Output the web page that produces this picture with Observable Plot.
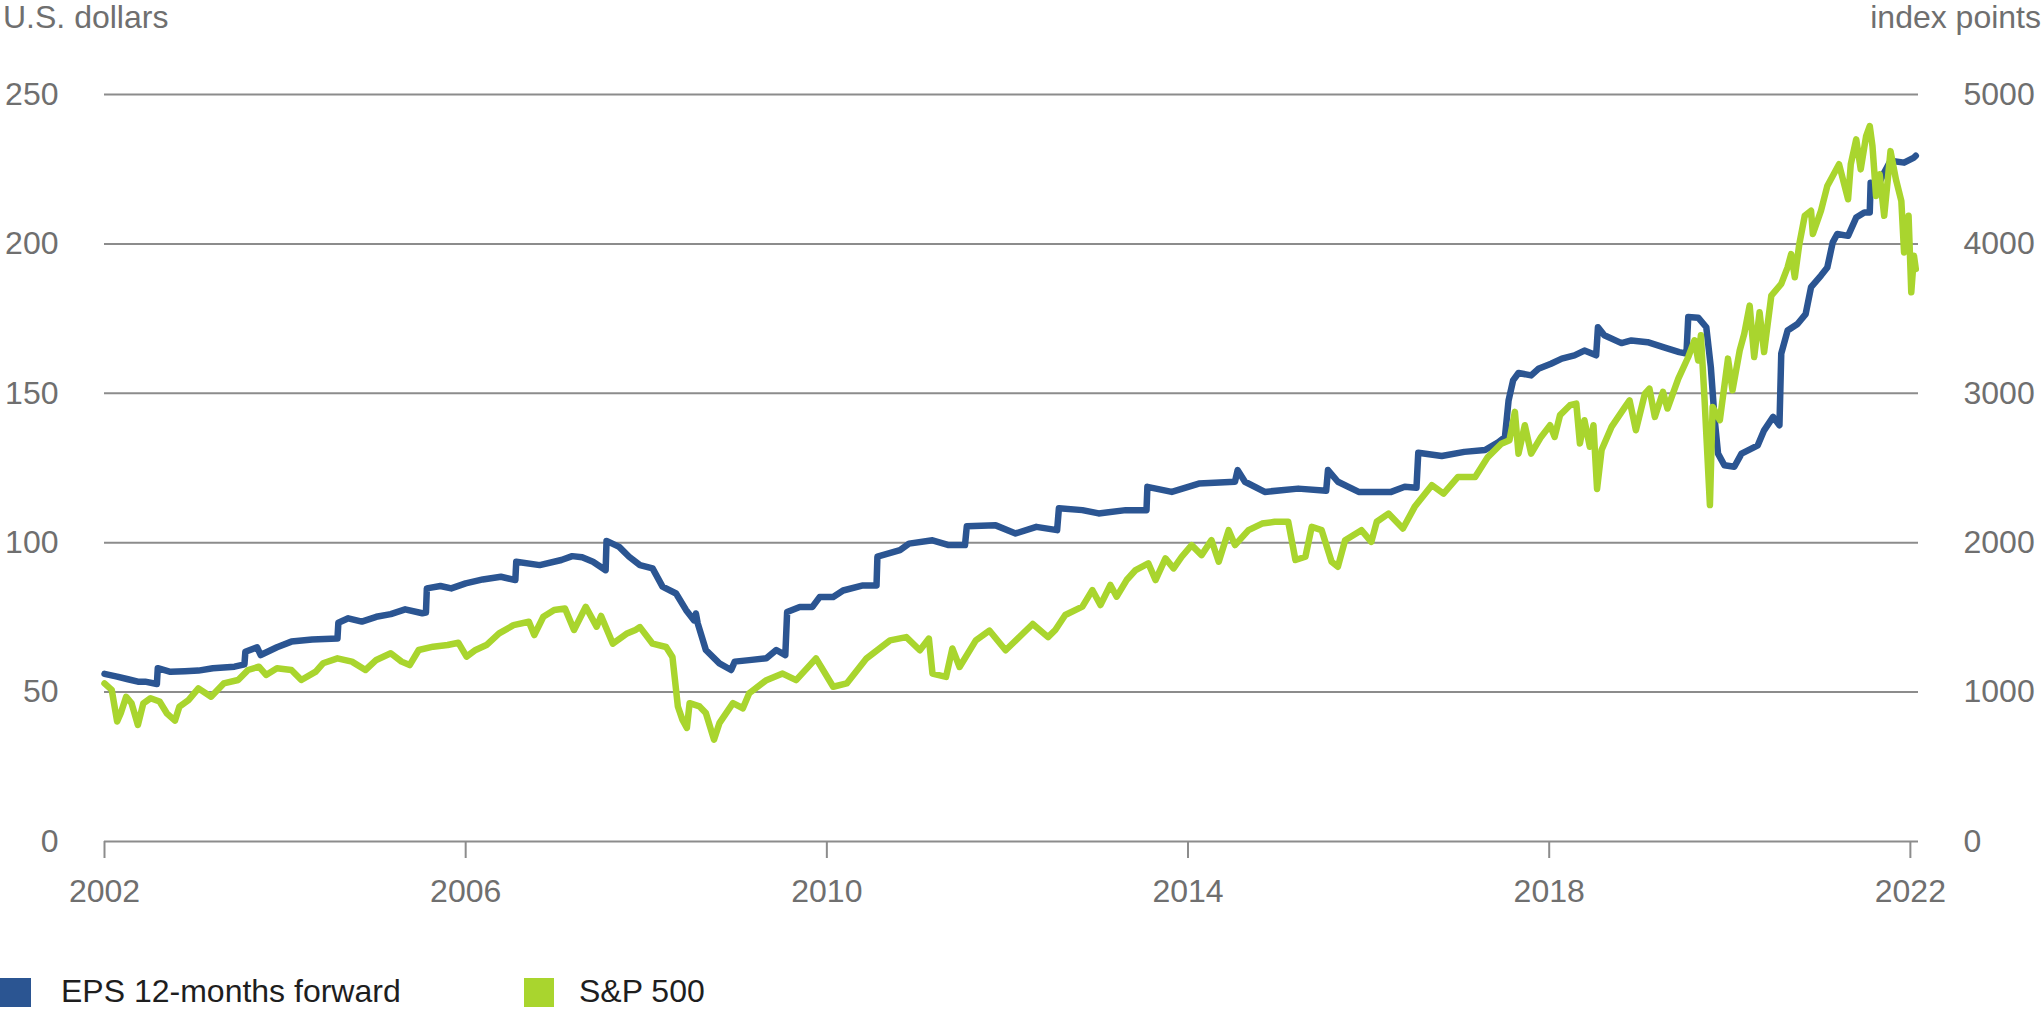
<!DOCTYPE html>
<html><head><meta charset="utf-8">
<script src="https://cdn.jsdelivr.net/npm/d3@7"></script>
<script src="https://cdn.jsdelivr.net/npm/@observablehq/plot@0.6"></script>
<style>
body{margin:0;background:#fff;}
#wrap{position:relative;width:2043px;height:1012px;overflow:hidden;font-family:"Liberation Sans",Arial,sans-serif;}
#wrap svg{position:absolute;left:0;top:0;}
.t{position:absolute;font-size:32px;line-height:32px;white-space:nowrap;}
.sq{position:absolute;}
</style></head><body><div id="wrap"></div>
<script>
// EPS 12-months forward (U.S. dollars), decimal years
const epsYears = [2002.00,2002.14,2002.26,2002.37,2002.45,2002.58,2002.59,2002.73,2002.89,2003.04,2003.20,2003.44,2003.55,2003.56,2003.69,2003.73,2003.91,2004.07,2004.30,2004.58,2004.59,2004.70,2004.85,2005.01,2005.17,2005.33,2005.52,2005.56,2005.57,2005.72,2005.84,2006.00,2006.19,2006.39,2006.55,2006.56,2006.82,2007.06,2007.18,2007.29,2007.41,2007.55,2007.56,2007.70,2007.81,2007.93,2008.07,2008.18,2008.33,2008.44,2008.53,2008.55,2008.57,2008.66,2008.81,2008.94,2008.98,2009.14,2009.33,2009.44,2009.54,2009.56,2009.70,2009.84,2009.92,2010.07,2010.18,2010.40,2010.55,2010.56,2010.81,2010.91,2011.17,2011.35,2011.53,2011.55,2011.87,2012.09,2012.32,2012.55,2012.57,2012.83,2013.01,2013.31,2013.54,2013.55,2013.82,2014.12,2014.52,2014.55,2014.63,2014.85,2015.22,2015.53,2015.55,2015.66,2015.89,2016.25,2016.40,2016.53,2016.55,2016.81,2017.06,2017.29,2017.44,2017.51,2017.55,2017.60,2017.66,2017.80,2017.88,2018.02,2018.14,2018.28,2018.39,2018.52,2018.54,2018.61,2018.80,2018.91,2019.09,2019.28,2019.44,2019.52,2019.54,2019.65,2019.74,2019.79,2019.83,2019.87,2019.94,2020.05,2020.13,2020.24,2020.31,2020.38,2020.48,2020.55,2020.57,2020.64,2020.75,2020.84,2020.90,2021.01,2021.08,2021.14,2021.19,2021.31,2021.40,2021.49,2021.55,2021.56,2021.64,2021.71,2021.78,2021.93,2022.04,2022.06];
const epsValues = [56.1,55.2,54.3,53.5,53.5,52.7,58.0,56.8,57.0,57.2,58.0,58.5,59.3,63.5,65.0,62.4,65.0,66.9,67.6,67.9,73.2,74.7,73.6,75.2,76.1,77.7,76.4,76.6,84.7,85.5,84.7,86.4,87.7,88.6,87.5,93.6,92.5,94.2,95.5,95.1,93.6,90.8,100.6,98.6,95.3,92.5,91.4,85.3,83.0,77.5,74.0,76.3,73.0,64.1,59.6,57.4,60.2,60.7,61.3,64.1,62.4,76.8,78.5,78.5,81.8,81.8,84.0,85.7,85.7,95.3,97.5,99.7,100.8,99.2,99.2,105.5,105.8,103.1,105.3,104.2,111.5,110.9,109.8,110.9,110.9,118.7,117.0,119.8,120.4,124.3,120.4,117.0,118.1,117.4,124.3,120.4,117.0,117.0,118.7,118.4,130.1,129.0,130.4,131.0,133.7,135.4,147.6,154.3,156.8,156.0,158.2,159.9,161.6,162.7,164.3,162.7,172.1,169.4,166.8,167.7,167.1,165.3,163.8,163.3,175.5,175.3,172.1,158.8,142.1,129.8,125.9,125.4,129.8,131.5,132.6,137.6,142.1,139.3,163.3,171.0,173.2,176.5,185.5,189.4,192.1,200.5,203.3,202.7,208.8,210.5,210.5,220.5,219.4,223.9,227.8,227.2,228.9,229.5];

// S&P 500 (index points), decimal years
const spxYears = [2002.00,2002.08,2002.14,2002.18,2002.24,2002.30,2002.37,2002.43,2002.51,2002.61,2002.69,2002.78,2002.83,2002.93,2003.04,2003.18,2003.32,2003.48,2003.59,2003.71,2003.79,2003.91,2004.07,2004.18,2004.34,2004.42,2004.58,2004.74,2004.89,2005.01,2005.17,2005.29,2005.38,2005.48,2005.64,2005.80,2005.92,2006.01,2006.11,2006.23,2006.37,2006.53,2006.70,2006.76,2006.86,2006.98,2007.10,2007.20,2007.33,2007.45,2007.50,2007.63,2007.78,2007.88,2007.93,2008.07,2008.22,2008.29,2008.35,2008.40,2008.45,2008.48,2008.59,2008.66,2008.75,2008.81,2008.96,2009.07,2009.14,2009.33,2009.51,2009.66,2009.88,2010.07,2010.22,2010.44,2010.70,2010.88,2011.03,2011.13,2011.17,2011.32,2011.39,2011.47,2011.65,2011.80,2011.98,2012.28,2012.45,2012.53,2012.64,2012.83,2012.94,2013.03,2013.14,2013.21,2013.32,2013.42,2013.56,2013.64,2013.75,2013.84,2013.93,2014.04,2014.15,2014.26,2014.34,2014.45,2014.52,2014.67,2014.82,2014.96,2015.11,2015.19,2015.30,2015.37,2015.48,2015.59,2015.66,2015.74,2015.92,2016.03,2016.09,2016.22,2016.38,2016.51,2016.70,2016.83,2016.99,2017.18,2017.32,2017.47,2017.56,2017.62,2017.66,2017.73,2017.80,2017.91,2018.01,2018.06,2018.12,2018.23,2018.30,2018.34,2018.39,2018.45,2018.49,2018.53,2018.58,2018.69,2018.84,2018.89,2018.96,2019.06,2019.11,2019.17,2019.26,2019.31,2019.43,2019.54,2019.61,2019.65,2019.68,2019.72,2019.78,2019.81,2019.89,2019.98,2020.03,2020.11,2020.16,2020.22,2020.27,2020.33,2020.38,2020.46,2020.57,2020.64,2020.68,2020.72,2020.77,2020.83,2020.90,2020.92,2021.01,2021.08,2021.21,2021.31,2021.34,2021.40,2021.45,2021.51,2021.55,2021.58,2021.62,2021.66,2021.71,2021.75,2021.78,2021.84,2021.90,2021.93,2021.98,2022.01,2022.04,2022.06];
const spxValues = [1058,1015,803,858,969,925,780,925,959,937,858,809,903,947,1025,969,1058,1081,1148,1170,1115,1159,1148,1081,1137,1193,1226,1204,1148,1215,1260,1204,1181,1282,1304,1315,1330,1237,1282,1315,1393,1448,1471,1382,1504,1549,1560,1416,1571,1438,1510,1324,1390,1416,1435,1324,1302,1235,904,816,760,926,904,860,682,792,926,892,992,1080,1124,1080,1226,1036,1058,1226,1346,1368,1280,1358,1124,1102,1292,1168,1346,1412,1280,1456,1368,1416,1516,1572,1683,1583,1717,1639,1750,1817,1862,1750,1895,1828,1906,1984,1917,2017,1873,2084,1984,2084,2128,2140,2140,1884,1906,2106,2084,1873,1839,2017,2084,2006,2140,2195,2095,2240,2385,2329,2440,2440,2573,2662,2686,2876,2596,2786,2596,2708,2786,2708,2854,2920,2931,2664,2820,2642,2786,2360,2620,2775,2909,2953,2753,2998,3031,2842,3009,2898,3098,3243,3355,3220,3388,2965,2252,2909,2820,3232,3020,3287,3398,3587,3243,3542,3276,3654,3732,3843,3932,3777,3999,4188,4222,4066,4222,4388,4533,4299,4533,4700,4499,4722,4789,4655,4321,4466,4188,4432,4621,4432,4287,3943,4188,3676,3920,3832];

const xTicks = [2002, 2006, 2010, 2014, 2018, 2022];
const leftTicks = [0, 50, 100, 150, 200, 250];
const rightTicks = [0, 1000, 2000, 3000, 4000, 5000];
const seriesNames = ["EPS 12-months forward", "S&P 500"];
const axisTitles = ["U.S. dollars", "index points"];

const BLUE = "#2b5592", GREEN = "#a9d52e", GRID = "#8c8c8c", TXT = "#6f6f6f";
const ratio = rightTicks[1] / leftTicks[1];

const eps = epsYears.map((y, i) => ({year: y, value: epsValues[i]}));
const spx = spxYears.map((y, i) => ({year: y, value: spxValues[i]}));

const chart = Plot.plot({
  width: 2043, height: 930,
  marginLeft: 104, marginRight: 125, marginTop: 94, marginBottom: 89,
  style: {fontFamily: '"Liberation Sans", Arial, sans-serif', fontSize: "32px", color: TXT, background: "transparent", overflow: "visible"},
  x: {type: "linear", domain: [2002, 2022.09], label: null},
  y: {domain: [0, 250], label: null},
  marks: [
    Plot.ruleY(leftTicks, {stroke: GRID, strokeWidth: 2}),
    Plot.axisX(xTicks, {tickSize: 17, tickPadding: 21, stroke: GRID, strokeWidth: 2, tickFormat: d => String(d), label: null}),
    Plot.axisY(leftTicks, {anchor: "left", tickSize: 0, tickPadding: 46, tickFormat: d => String(d), label: null}),
    Plot.axisY(leftTicks, {anchor: "right", tickSize: 0, tickPadding: 45, tickFormat: d => String(rightTicks[leftTicks.indexOf(d)]), label: null}),
    Plot.line(eps, {x: "year", y: "value", stroke: BLUE, strokeWidth: 6.5, strokeLinecap: "round", strokeLinejoin: "round"}),
    Plot.line(spx, {x: "year", y: d => d.value / ratio, stroke: GREEN, strokeWidth: 6.5, strokeLinecap: "round", strokeLinejoin: "round"})
  ]
});

const wrap = document.getElementById("wrap");
wrap.appendChild(chart);

function addText(txt, css, color) {
  const d = document.createElement("div");
  d.className = "t";
  d.textContent = txt;
  d.style.color = color;
  Object.assign(d.style, css);
  wrap.appendChild(d);
}
function addSq(css, color) {
  const d = document.createElement("div");
  d.className = "sq";
  d.style.background = color;
  Object.assign(d.style, css);
  wrap.appendChild(d);
}
addText(axisTitles[0], {left: "3px", top: "1px"}, TXT);
addText(axisTitles[1], {right: "2px", top: "1px"}, TXT);
addSq({left: "0px", top: "978px", width: "31px", height: "29px"}, BLUE);
addText(seriesNames[0], {left: "61px", top: "975px"}, "#1e1e1e");
addSq({left: "524px", top: "978px", width: "30px", height: "29px"}, GREEN);
addText(seriesNames[1], {left: "579px", top: "975px"}, "#1e1e1e");
</script>
</body></html>
